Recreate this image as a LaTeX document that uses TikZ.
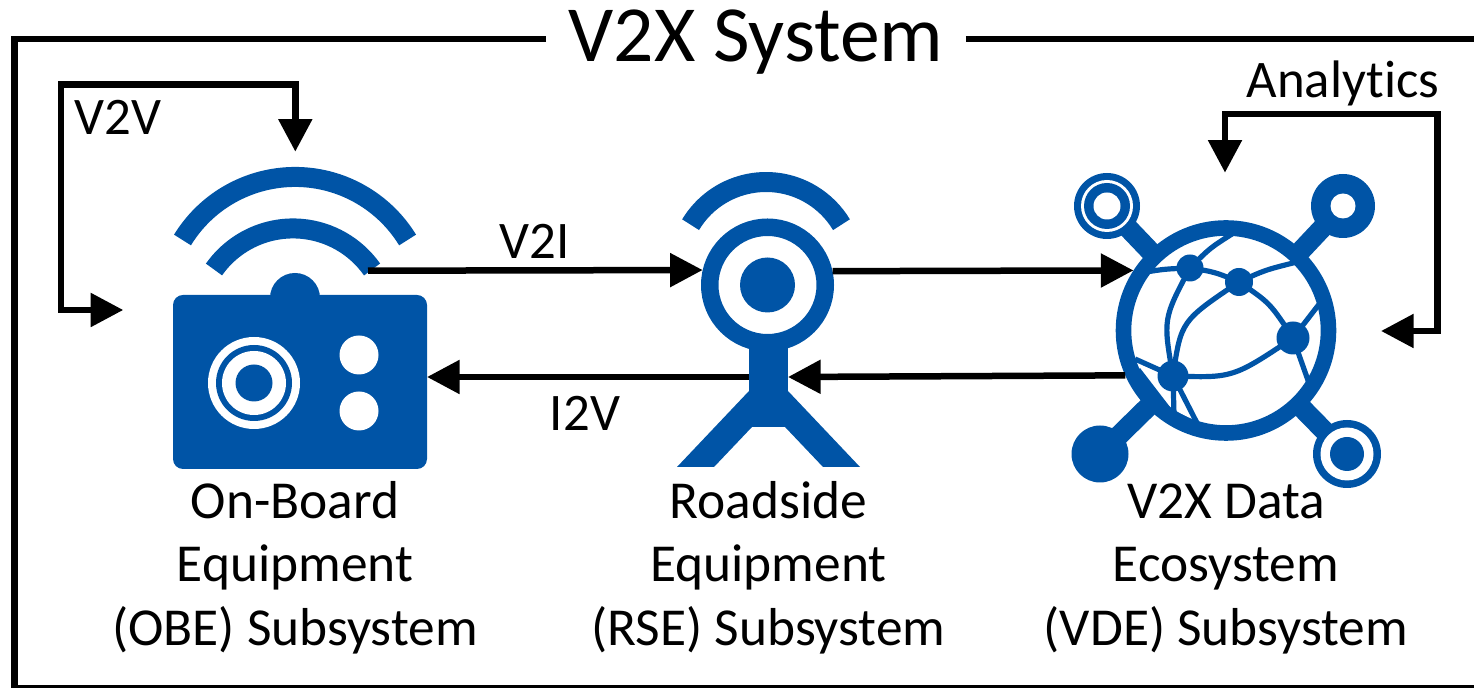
\documentclass[tikz,border=0pt]{standalone}
\usepackage{fontspec}
\setmainfont{Carlito}[Ligatures=NoCommon]
\usetikzlibrary{arrows.meta}
\definecolor{vxblue}{RGB}{0,84,166}
\tikzset{
  conn/.style={line width=3.25pt},
  wave/.style={line width=10pt,color=vxblue},
  link/.style={line width=2.6pt,color=vxblue},
  spoke/.style={line width=10pt,color=vxblue},
  dot/.style={fill=vxblue},
  hole/.style={fill=white},
  biglabel/.style={font=\fontsize{26.7}{31.75}\selectfont,align=center,anchor=base},
  smalllabel/.style={font=\fontsize{26.4}{30}\selectfont,anchor=base}
}
\begin{document}
\begin{tikzpicture}[line join=miter,>={Triangle[length=16.3pt,width=16.3pt]},x=0.5pt,y=0.5pt]
\useasboundingbox (0,0) rectangle (1474,-688);
\node[font=\fontsize{39.8}{41}\selectfont,anchor=base,inner sep=11pt] (vxtitle) at (756,-62) {V2X System};
\coordinate (framecorner) at (14.3,-39);
\coordinate (framefoot) at (1474,-688);
\coordinate (frameend) at (1474,-39);
\draw [conn] (vxtitle.west |- framecorner) -- (framecorner) |- (framefoot);
\draw [conn] (vxtitle.east |- frameend) -- (frameend);
\draw [wave] (182.5,-240) arc (148.5:31.5:132);
\draw [wave] (214,-269.5) arc (144.9:35.1:96.6);
\fill [vxblue] (295,-298) circle (25);
\node[rectangle,rounded corners=5pt,fill=vxblue,minimum width=127pt,minimum height=87pt,inner sep=0pt,outer sep=0pt] (obebox) at (300,-382) {};
\fill [hole] (254,-383) circle (46);
\fill [dot] (254,-383) circle (38);
\fill [hole] (254,-383) circle (32);
\fill [dot] (254,-383) circle (18.5);
\fill [hole] (359,-355) circle (19.5);
\fill [hole] (359,-411) circle (19.5);
\coordinate (obewave) at (368,-270.7);
\draw [wave] (690.6,-224.7) arc (149:31:88);
\fill [vxblue] (677,-467) -- (749,-391) -- (788,-391) -- (860,-467) -- (823,-467) -- (785,-427) -- (752,-427) -- (714,-467) -- cycle;
\node[rectangle,fill=vxblue,minimum width=19.5pt,minimum height=32pt,inner sep=0pt,outer sep=0pt] (rsestem) at (768.5,-377) {};
\node[circle,draw=vxblue,line width=8.75pt,fill=white,minimum size=57.75pt,inner sep=0pt] (rsering) at (767.5,-285) {};
\fill [dot] (767.5,-285) circle (27.5);
\draw [spoke] (1107,-206) -- (1226,-330.5);
\draw [spoke] (1343,-206) -- (1226,-330.5);
\draw [spoke] (1100,-454) -- (1226,-330.5);
\draw [spoke] (1347,-454) -- (1226,-330.5);
\fill [dot] (1107,-206) circle (33);
\fill [hole] (1107,-206) circle (26);
\fill [dot] (1107,-206) circle (23);
\fill [hole] (1107,-206) circle (13.5);
\fill [dot] (1343,-206) circle (32);
\fill [hole] (1343,-206) circle (12.5);
\fill [dot] (1100,-454) circle (28.5);
\fill [dot] (1347,-454) circle (34);
\fill [hole] (1347,-454) circle (26.5);
\fill [dot] (1347,-454) circle (17);
\node[circle,draw=vxblue,line width=7.8pt,fill=white,minimum size=102.5pt,inner sep=0pt] (vdering) at (1226,-330.5) {};
\fill [vxblue] (1140,-368) -- (1170,-407) -- (1165,-420) -- (1130,-380) -- cycle;
\fill [vxblue] (1177,-412) -- (1187,-417) -- (1180,-425) -- (1170,-420) -- cycle;
\draw [link] (1146,-272) .. controls (1165,-269) .. (1190,-268);
\draw [link] (1190,-268) .. controls (1215,-272) .. (1239,-282);
\draw [link] (1239,-282) .. controls (1265,-270) .. (1297,-262);
\draw [link] (1190,-268) .. controls (1210,-248) .. (1232,-234);
\draw [link] (1190,-268) .. controls (1163,-319) .. (1173,-376);
\draw [link] (1239,-282) .. controls (1181,-321) .. (1173,-376);
\draw [link] (1239,-282) .. controls (1270,-303) .. (1293,-338);
\draw [link] (1293,-338) -- (1320,-303);
\draw [link] (1293,-338) -- (1310,-386);
\draw [link] (1293,-338) .. controls (1233,-378) .. (1173,-376);
\draw [link] (1173,-376) -- (1135,-359);
\draw [link] (1173,-376) -- (1174,-414);
\draw [link] (1173,-376) -- (1197,-423);
\fill [dot] (1190,-268) circle (13.5);
\fill [dot] (1239,-282) circle (14);
\fill [dot] (1293,-338) circle (16.5);
\fill [dot] (1173,-376) circle (15.5);
\coordinate (v2vtip) at (123.3,-310);
\coordinate (v2vcorner) at (61,-84.7);
\coordinate (v2vdown) at (295.3,-151.7);
\draw [conn,<->] (v2vtip) -| (v2vcorner) -| (v2vdown);
\coordinate (anatip) at (1381,-331);
\coordinate (anacorner) at (1437.7,-114);
\coordinate (anadown) at (1225,-172.7);
\draw [conn,<->] (anatip) -| (anacorner) -| (anadown);
\draw [conn,->] (obewave) -- (rsering.167.6);
\draw [conn,->] (rsering.12.4) -- (vdering.147.2);
\draw [conn,->] (vdering.204.9) -- (rsestem.east);
\draw [conn,->] (rsestem.west) -- (rsestem.west -| obebox.east);
\node[smalllabel] (v2vlabel) at (118,-135) {V2V};
\node[smalllabel] (v2ilabel) at (535,-259) {V2I};
\node[smalllabel] (i2vlabel) at (585,-431) {I2V};
\node[smalllabel] (analabel) at (1343,-98) {Analytics};
\node[biglabel] (obelabel) at (295,-645.5) {On-Board\\Equipment\\(OBE) Subsystem};
\node[biglabel] (rselabel) at (768.5,-645.5) {Roadside\\Equipment\\(RSE) Subsystem};
\node[biglabel] (vdelabel) at (1226,-645.5) {V2X Data\\Ecosystem\\(VDE) Subsystem};
\end{tikzpicture}
\end{document}
